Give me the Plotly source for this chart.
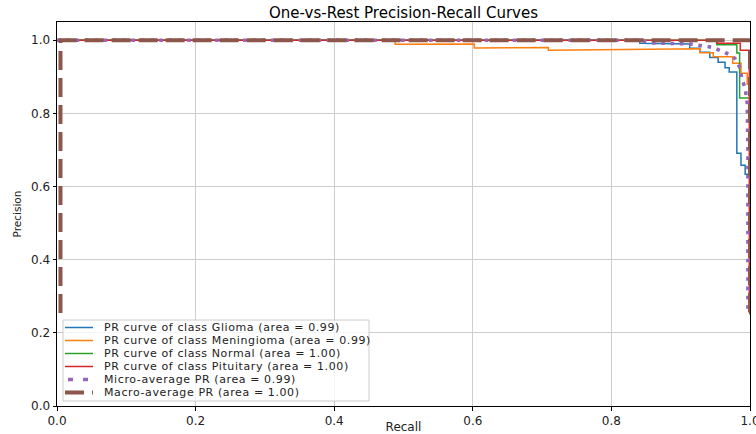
import plotly.graph_objects as go

# ---- data: one-vs-rest precision/recall curves ----
recall_glioma = [0.0, 0.841, 0.841, 0.913, 0.913, 0.928, 0.928, 0.942, 0.942, 0.954, 0.954,
                 0.964, 0.964, 0.970, 0.970, 0.981, 0.981, 0.987, 0.987, 0.993, 0.993, 1.0, 1.0]
precision_glioma = [1.0, 1.0, 0.992, 0.990, 0.978, 0.978, 0.967, 0.967, 0.953, 0.953, 0.940,
                    0.940, 0.925, 0.925, 0.913, 0.913, 0.691, 0.691, 0.658, 0.658, 0.634, 0.634, 0.25]

recall_meningioma = [0.0, 0.488, 0.488, 0.602, 0.602, 0.709, 0.709, 0.928, 0.928, 0.947, 0.947,
                     0.975, 0.975, 0.987, 0.987, 0.996, 0.996, 1.0, 1.0]
precision_meningioma = [1.0, 1.0, 0.989, 0.990, 0.979, 0.980, 0.973, 0.977, 0.966, 0.966, 0.955,
                        0.955, 0.937, 0.937, 0.910, 0.910, 0.880, 0.880, 0.25]

recall_normal = [0.0, 0.952, 0.952, 0.981, 0.981, 0.985, 0.985, 1.0, 1.0]
precision_normal = [1.0, 1.0, 0.988, 0.988, 0.965, 0.965, 0.842, 0.842, 0.25]

recall_pituitary = [0.0, 0.952, 0.952, 0.986, 0.986, 0.999, 0.999]
precision_pituitary = [1.0, 1.0, 0.992, 0.992, 0.973, 0.973, 0.254]

recall_micro = [0.0, 0.84, 0.86, 0.913, 0.928, 0.945, 0.964, 0.978, 0.986, 0.988, 0.993, 0.996, 0.997, 0.997]
precision_micro = [1.0, 1.0, 0.993, 0.990, 0.986, 0.981, 0.967, 0.951, 0.923, 0.896, 0.869, 0.828, 0.70, 0.254]

recall_macro = [0.005, 0.005, 1.0, 1.0]
precision_macro = [0.254, 1.0, 1.0, 0.254]

series_names = [
    "PR curve of class Glioma (area = 0.99)",
    "PR curve of class Meningioma (area = 0.99)",
    "PR curve of class Normal (area = 1.00)",
    "PR curve of class Pituitary (area = 1.00)",
    "Micro-average PR (area = 0.99)",
    "Macro-average PR (area = 1.00)",
]
tick_values = [0.0, 0.2, 0.4, 0.6, 0.8, 1.0]
tick_labels = ["0.0", "0.2", "0.4", "0.6", "0.8", "1.0"]

# ---- styling ----
FONT = "DejaVu Sans"
TEXT = "#222222"
W, H = 756, 434
L, R, T, B = 57, 750, 22, 406  # plot-area pixel box

styles = [
    dict(color="#1f77b4", width=1.5, dash="solid"),
    dict(color="#ff7f0e", width=1.5, dash="solid"),
    dict(color="#2ca02c", width=1.5, dash="solid"),
    dict(color="#d62728", width=1.5, dash="solid"),
    dict(color="#9467bd", width=3.6, dash="3.6px,5.7px"),
    dict(color="#8c564b", width=4, dash="19px,8px"),
]

curves = [
    (recall_glioma, precision_glioma),
    (recall_meningioma, precision_meningioma),
    (recall_normal, precision_normal),
    (recall_pituitary, precision_pituitary),
    (recall_micro, precision_micro),
    (recall_macro, precision_macro),
]

fig = go.Figure()
for (rx, py), name, st in zip(curves, series_names, styles):
    fig.add_trace(go.Scatter(x=rx, y=py, mode="lines", name=name, line=st,
                             showlegend=False, hoverinfo="skip"))


def px_x(p):
    return (p - L) / (R - L)


def px_y(p):
    return (B - p) / (B - T)


# legend box drawn in the lower-left corner of the plot area
ROW0, ROW_STEP = 327.5, 13
shapes = [dict(type="rect", xref="paper", yref="paper",
               x0=px_x(63), x1=px_x(369), y0=px_y(401), y1=px_y(320),
               fillcolor="rgba(255,255,255,0.8)", line=dict(color="#cccccc", width=1),
               layer="above")]
for i, st in enumerate(styles):
    yy = ROW0 + ROW_STEP * i
    x0, x1, dash = 65, 93, st["dash"]
    if i == 4:
        x0, x1, dash = 68, 88, "5px,10px"
    shapes.append(dict(type="line", xref="paper", yref="paper",
                       x0=px_x(x0), x1=px_x(x1), y0=px_y(yy), y1=px_y(yy),
                       line=dict(color=st["color"], width=st["width"], dash=dash),
                       layer="above"))

# legend labels: one multi-line text block, 10px base font gives a 13px row pitch
legend_text = "<br>".join(
    f'<span style="font-size:11px;letter-spacing:0.6px">{n}</span>' for n in series_names)
annotations = [dict(xref="paper", yref="paper", x=px_x(102),
                    y=px_y(ROW0 + ROW_STEP * 2.5), text=legend_text, align="left",
                    showarrow=False, xanchor="left", yanchor="middle",
                    font=dict(family=FONT, size=10, color=TEXT))]

axis_common = dict(
    showline=True, mirror=True, linecolor="black", linewidth=1,
    ticks="outside", ticklen=3.5, tickwidth=1, tickcolor="black",
    showgrid=True, gridcolor="#cdcdcd", gridwidth=1, zeroline=False,
    tickvals=tick_values, ticktext=tick_labels, automargin=False,
    tickfont=dict(family=FONT, size=12, color=TEXT),
)

fig.update_layout(
    width=W, height=H,
    margin=dict(l=L, r=W - R, t=T, b=H - B, autoexpand=False),
    paper_bgcolor="white", plot_bgcolor="white",
    title=dict(text="One-vs-Rest Precision-Recall Curves", x=px_x((L + R) / 2), xref="paper",
               xanchor="center", y=1 - 13 / H, yref="container", yanchor="middle",
               font=dict(family=FONT, size=15, color="black")),
    xaxis=dict(range=[0, 1], ticklabeloverflow="allow",
               title=dict(text="Recall", standoff=3,
                          font=dict(family=FONT, size=12, color=TEXT)),
               **axis_common),
    yaxis=dict(range=[0, 1.05],
               title=dict(text="Precision", standoff=7,
                          font=dict(family=FONT, size=10.5, color=TEXT)),
               **axis_common),
    shapes=shapes,
    annotations=annotations,
)

fig.write_html("out.html")
